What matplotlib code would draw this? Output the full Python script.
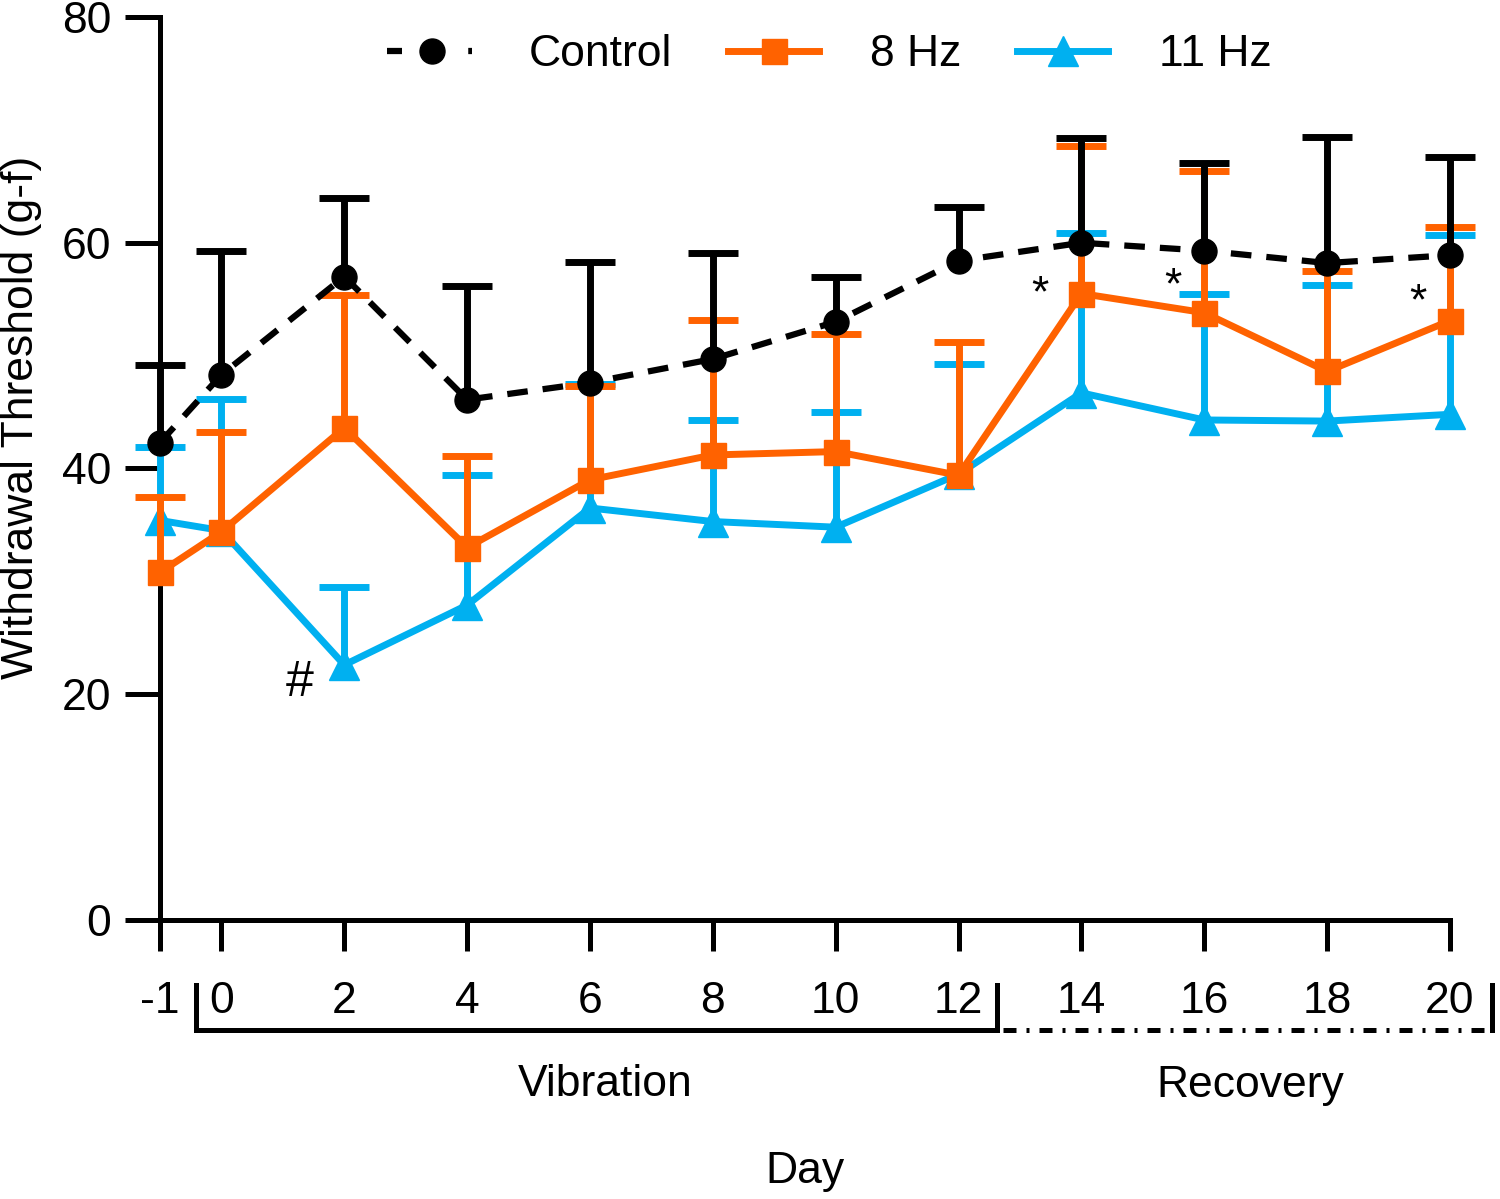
import numpy as np
import matplotlib
matplotlib.use("Agg")
import matplotlib.pyplot as plt
from matplotlib.lines import Line2D

plt.rcParams['font.family'] = ['Liberation Sans Narrow', 'Liberation Sans', 'DejaVu Sans']

## Data

days = [-1, 0, 2, 4, 6, 8, 10, 12, 14, 16, 18, 20]
day_labels = ["-1", "0", "2", "4", "6", "8", "10", "12", "14", "16", "18", "20"]

control_mean = [42.3, 48.3, 57.0, 46.1, 47.6, 49.7, 53.0, 58.4, 60.0, 59.3, 58.2, 58.9]
control_top = [49.2, 59.3, 64.0, 56.2, 58.3, 59.1, 57.0, 63.2, 69.3, 67.1, 69.4, 67.6]

hz8_mean = [30.8, 34.4, 43.6, 33.0, 39.0, 41.2, 41.5, 39.4, 55.5, 53.8, 48.6, 53.1]
hz8_top = [37.5, 43.2, 55.4, 41.1, 47.3, 53.2, 51.9, 51.2, 68.6, 66.4, 57.5, 61.4]

hz11_mean = [35.4, 34.5, 22.6, 27.9, 36.5, 35.3, 34.8, 39.5, 46.7, 44.3, 44.2, 44.8]
hz11_top = [41.9, 46.2, 29.5, 39.4, 47.5, 44.3, 45.0, 49.3, 60.9, 55.5, 56.3, 60.7]

# significance marks: (day, value, symbol)
marks = [(1.27, 21.0, "#"), (13.32, 55.4, "*"), (15.49, 56.1, "*"), (19.48, 54.7, "*")]

# phase brackets (in days)
vibration_span = (-0.41, 12.62)
recovery_span = (12.72, 20.68)

ORANGE = "#FF6200"
CYAN = "#00B0F0"
FS = 32
CTRL_LS = (0, (3.3, 2.4))

fig = plt.figure(figsize=(15, 11.99), dpi=100)
ax = fig.add_axes([160/1500, 1 - 920/1199, 1290/1500, 903/1199])

def up_err(mean, top):
    return [np.zeros(len(mean)), np.array(top) - np.array(mean)]

def series(mean, top, z, **kw):
    cont = ax.errorbar(days, mean, yerr=up_err(mean, top), elinewidth=5, capsize=18,
                       capthick=5, clip_on=False, zorder=z, **kw)
    cont[1][0].set_visible(False)  # no cap at the mean (upper bars only)
    return cont

series(hz11_mean, hz11_top, 3, color=CYAN, lw=5, marker="^", ms=22)
series(hz8_mean, hz8_top, 4, color=ORANGE, lw=5, marker="s", ms=18)
series(control_mean, control_top, 5, color="black", lw=4.5, ls=CTRL_LS, marker="o", ms=18)

for x, y, s in marks:
    ax.text(x, y, s, ha="center", va="center", fontsize=FS if s == "*" else 36)

ax.set_xlim(-1, 20)
ax.set_ylim(0, 80)
ax.set_xticks(days)
ax.set_xticklabels(day_labels)
ax.set_yticks([0, 20, 40, 60, 80])

for side in ["top", "right"]:
    ax.spines[side].set_visible(False)
for side in ["left", "bottom"]:
    ax.spines[side].set_linewidth(3.6)
ax.tick_params(axis="x", length=22, width=3.6, pad=22, labelsize=FS)
ax.tick_params(axis="y", length=25, width=3.6, pad=10, labelsize=FS)

# brackets under the axis
y_hi, y_lo = -5.8, -9.75
a, b = vibration_span
ax.plot([a, a, b, b], [y_hi, y_lo, y_lo, y_hi], color="black", lw=3.6,
        solid_joinstyle="miter", clip_on=False)
a, b = recovery_span
ax.plot([a, b], [y_lo, y_lo], color="black", lw=3.6, ls=(0, (2.6, 2.0, 0.6, 2.0)),
        clip_on=False)
ax.plot([b, b], [y_lo, y_hi], color="black", lw=3.6, clip_on=False)

fig.text(605/1500, 1 - 1085/1199, "Vibration", ha="center", va="center", fontsize=FS)
fig.text(1250/1500, 1 - 1085/1199, "Recovery", ha="center", va="center", fontsize=FS)
fig.text(805/1500, 1 - 1172/1199, "Day", ha="center", va="center", fontsize=FS)
fig.text(22/1500, 1 - 417/1199, "Withdrawal Threshold (g-f)", rotation=90,
         ha="center", va="center", fontsize=FS)

handles = [
    Line2D([], [], color="black", lw=4.5, ls=(0, (2.4, 10.6, 0.6, 5.0)), marker="o", ms=18),
    Line2D([], [], color=ORANGE, lw=5, marker="s", ms=18),
    Line2D([], [], color=CYAN, lw=5, marker="^", ms=22),
]
ax.legend(handles, ["Control", "8 Hz", "11 Hz"], ncol=3,
          frameon=False, fontsize=FS, loc="center", bbox_to_anchor=(0.519, 0.958),
          handlelength=2.05, handletextpad=1.15, columnspacing=1.25)

fig.savefig("out.png", dpi=100)
